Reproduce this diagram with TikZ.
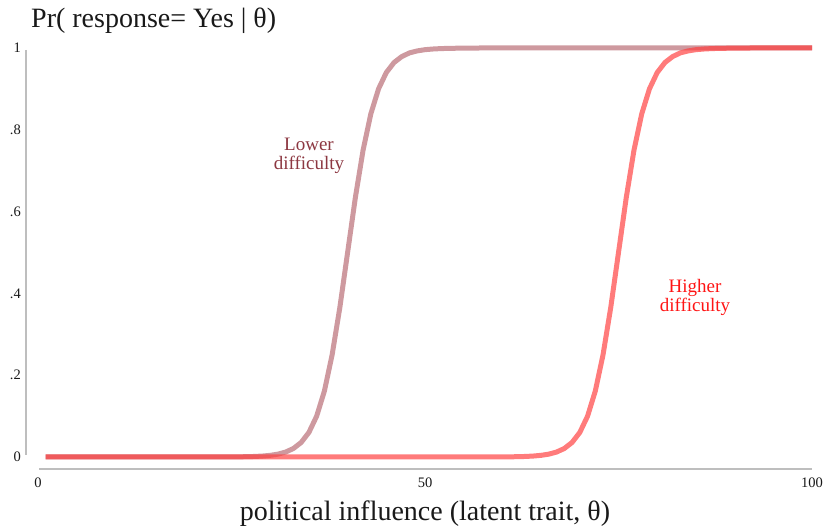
\documentclass[tikz,border=0pt]{standalone}
\usepackage{fontspec}
\setmainfont{Liberation Serif}

\definecolor{lowcol}{RGB}{165,70,80}
\definecolor{highcol}{RGB}{255,60,60}
\definecolor{lowtext}{RGB}{140,55,65}
\definecolor{hightext}{RGB}{255,20,20}
\definecolor{axisgray}{RGB}{190,190,190}
\definecolor{inkcol}{RGB}{25,25,25}

\tikzset{
  axisline/.style={draw=axisgray, line width=1.5pt},
  ticklab/.style={font=\fontsize{14.5}{16}\selectfont, inner sep=0pt, text=inkcol},
  curvelab/.style={font=\fontsize{19}{19}\selectfont, align=center, inner sep=0pt},
  lowcurve/.style={draw=lowcol, opacity=0.55, line width=5pt, line join=round},
  highcurve/.style={draw=highcol, opacity=0.68, line width=5pt, line join=round},
}

\begin{document}
\begin{tikzpicture}[x=1pt, y=-1pt]
    \useasboundingbox (0,0) rectangle (824,532);
    \def\xo{38}
    \def\yo{457}
    \def\xs{7.74}
    \def\ys{409}

    % Axis lines
    \coordinate (ytop) at (26,50);
    \coordinate (ybot) at (26,455);
    \coordinate (xleft) at (39,469);
    \coordinate (xright) at (812,469);
    \draw[axisline] (ytop) -- (ybot);
    \draw[axisline] (xleft) -- (xright);

    % Tick labels
    \foreach \p/\lab [count=\i] in {0/0, 0.2/.2, 0.4/.4, 0.6/.6, 0.8/.8, 1/1}
        \node[ticklab, anchor=east] (ytick\i) at (21, {\yo-\ys*\p}) {\lab};
    \foreach \v in {0,50,100}
        \node[ticklab] (xtick\v) at ({\xo+\xs*\v}, 483) {\v};

    % Item curves
    \begin{scope}[shift={(\xo,\yo)}, x=\xs pt, y=\ys pt]
        \draw[lowcurve] plot[domain=1:100, samples=100]
            (\x, {1/(1+exp(max(-9,min(9,-0.55*(\x-40)))))});
        \draw[highcurve] plot[domain=1:100, samples=100]
            (\x, {1/(1+exp(max(-9,min(9,-0.55*(\x-75)))))});
    \end{scope}

    % Curve labels
    \node[curvelab, text=lowtext] (lowlab) at (309,156) {Lower\\difficulty};
    \node[curvelab, text=hightext] (highlab) at (695,297) {Higher\\difficulty};

    % Titles
    \node[anchor=base west, font=\fontsize{28}{32}\selectfont, inner sep=0pt, text=inkcol]
        (ytitle) at (31,28) {Pr( response= Yes | θ)};
    \node[anchor=base, font=\fontsize{28}{32}\selectfont, inner sep=0pt, text=inkcol]
        (xtitle) at (425,520) {political influence (latent trait, θ)};
\end{tikzpicture}
\end{document}
